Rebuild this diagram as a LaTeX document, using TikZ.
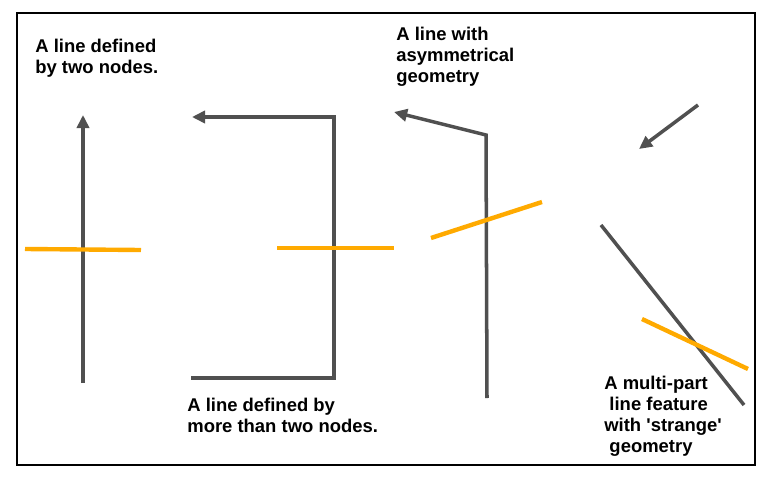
\documentclass[tikz,border=0pt]{standalone}
\usepackage{fontspec}
\setmainfont{Liberation Sans}
\usepackage{xcolor}
\usetikzlibrary{arrows.meta}
\definecolor{lfgray}{HTML}{505050}
\definecolor{lforange}{HTML}{FFAA00}
\tikzset{
lfframe/.style={draw=black,line width=0.6pt},
lfline/.style={draw=lfgray,line width=2pt},
lfarr/.style={lfline,-{Triangle[length=7.5pt,width=7pt]}},
lfcross/.style={draw=lforange,line width=2.5pt},
lfnote/.style={anchor=north west,inner sep=0pt,align=left,font=\bfseries\fontsize{10.5}{12}\selectfont}
}
\begin{document}
\begin{tikzpicture}[
x=0.02cm,
y=-0.02cm
]
\useasboundingbox (0,0) rectangle (768,480);
\draw[lfframe] (17,13) rectangle (755,465);
% two-node line
\coordinate (twoA) at (83,383);
\coordinate (twoB) at (83,115);
\coordinate (twoXa) at (25,249);
\coordinate (twoXb) at (141,250);
% many-node line
\coordinate (manyA) at (191,378);
\coordinate (manyB) at (334,378);
\coordinate (manyC) at (334,117);
\coordinate (manyD) at (192,117);
\coordinate (manyXa) at (277,248);
\coordinate (manyXb) at (394,248);
% asymmetrical line
\coordinate (asymA) at (487,398);
\coordinate (asymB) at (486,135);
\coordinate (asymC) at (394,112);
\coordinate (asymXa) at (431,238);
\coordinate (asymXb) at (542,202);
% multi-part line
\coordinate (partA) at (698,105);
\coordinate (partB) at (639,149);
\coordinate (partC) at (601,225);
\coordinate (partD) at (744,405);
\coordinate (partXa) at (642,319);
\coordinate (partXb) at (748,369);
\node[lfnote] (twonote) at (35,39) {A line defined\\by two nodes.};
\node[lfnote] (asymnote) at (396,27) {A line with\\asymmetrical\\geometry};
\node[lfnote] (manynote) at (187,398) {A line defined by\\more than two nodes.};
\node[lfnote] (partnote) at (604,376) {A multi-part\\\ line feature\\with \textquotesingle strange\textquotesingle\\\ geometry};
\draw[lfarr] (twoA)--(twoB);
\draw[lfcross] (twoXa)--(twoXb);
\draw[lfarr] (manyA)--(manyB)--(manyC)--(manyD);
\draw[lfcross] (manyXa)--(manyXb);
\draw[lfarr] (asymA)--(asymB)--(asymC);
\draw[lfcross] (asymXa)--(asymXb);
\draw[lfarr] (partA)--(partB);
\draw[lfline] (partC)--(partD);
\draw[lfcross] (partXa)--(partXb);
\end{tikzpicture}
\end{document}
